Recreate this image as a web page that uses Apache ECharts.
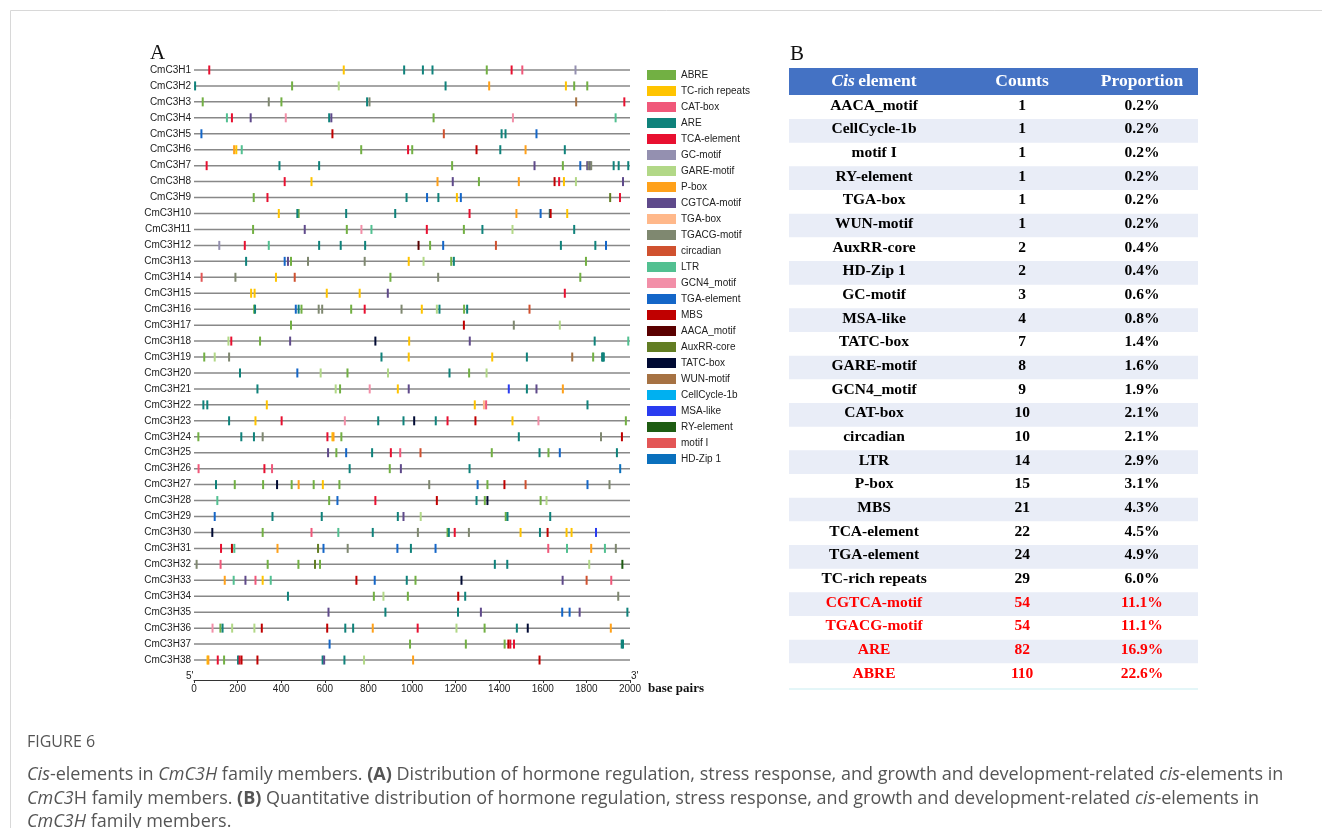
<!DOCTYPE html>
<html><head><meta charset="utf-8">
<script src="https://cdn.jsdelivr.net/npm/echarts@6/dist/echarts.min.js"></script>
<style>html,body{margin:0;padding:0;background:#fff}#c{width:1322px;height:828px}</style>
</head><body><div id="c"></div>
<script>
// ---------- Panel A data ----------
const genes = Array.from({length:38},(_,i)=>'CmC3H'+(i+1));
const xTicks = [0,200,400,600,800,1000,1200,1400,1600,1800,2000];
const elementNames = ['ABRE','TC-rich repeats','CAT-box','ARE','TCA-element','GC-motif','GARE-motif','P-box','CGTCA-motif','TGA-box','TGACG-motif','circadian','LTR','GCN4_motif','TGA-element','MBS','AACA_motif','AuxRR-core','TATC-box','WUN-motif','CellCycle-1b','MSA-like','RY-element','motif I','HD-Zip 1'];
const elementColors = ['#72b043','#ffc400','#f0587a','#0f827b','#e81030','#9490b0','#b2d887','#ffa11a','#5f4a8b','#ffb88a','#7f8870','#d0512f','#52c091','#f28fa8','#1466c8','#c00000','#5a0000','#627d23','#000a33','#a67243','#00b0f0','#2a3cf0','#1e5c12','#e35656','#0a70bd'];
const elementCodes = ['AB','TC','CAT','ARE','TCA','GC','GARE','PB','CG','TGAb','TG','CIR','LTR','GCN','TGAe','MBS','AACA','AUX','TATC','WUN','CC','MSA','RY','MI','HD'];

// [position (bp), element code]
const CmC3H1 = [[70,'TCA'],[687,'TC'],[964,'ARE'],[1050,'ARE'],[1094,'ARE'],[1343,'AB'],[1457,'TCA'],[1506,'CAT'],[1750,'GC']];
const CmC3H2 = [[5,'ARE'],[450,'AB'],[664,'GARE'],[1154,'ARE'],[1354,'PB'],[1706,'TC'],[1744,'AB'],[1804,'AB']];
const CmC3H3 = [[40,'AB'],[343,'TG'],[401,'AB'],[794,'ARE'],[805,'TG'],[1753,'WUN'],[1974,'TCA']];
const CmC3H4 = [[151,'LTR'],[174,'TCA'],[260,'CG'],[421,'GCN'],[620,'ARE'],[630,'CG'],[1099,'AB'],[1463,'GCN'],[1934,'LTR']];
const CmC3H5 = [[34,'TGAe'],[635,'MBS'],[1146,'CIR'],[1411,'ARE'],[1429,'ARE'],[1571,'TGAe']];
const CmC3H6 = [[184,'PB'],[194,'TC'],[219,'LTR'],[767,'AB'],[982,'TCA'],[1001,'AB'],[1296,'MBS'],[1405,'ARE'],[1521,'PB'],[1701,'ARE']];
const CmC3H7 = [[58,'TCA'],[392,'ARE'],[574,'ARE'],[1184,'AB'],[1562,'CG'],[1692,'AB'],[1772,'TGAe'],[1804,'CG'],[1810,'TG'],[1816,'CG'],[1822,'TG'],[1925,'ARE'],[1948,'ARE'],[1992,'ARE']];
const CmC3H8 = [[416,'TCA'],[539,'TC'],[1117,'PB'],[1187,'CG'],[1307,'AB'],[1490,'PB'],[1654,'MBS'],[1675,'TCA'],[1697,'TC'],[1752,'GARE'],[1968,'CG']];
const CmC3H9 = [[274,'AB'],[337,'TCA'],[975,'ARE'],[1069,'TGAe'],[1121,'ARE'],[1206,'TC'],[1224,'TGAe'],[1909,'AUX'],[1954,'TCA']];
const CmC3H10 = [[389,'TC'],[474,'ARE'],[480,'AB'],[698,'ARE'],[923,'ARE'],[1264,'TCA'],[1479,'PB'],[1590,'TGAe'],[1632,'ARE'],[1636,'MBS'],[1712,'TC']];
const CmC3H11 = [[271,'AB'],[508,'CG'],[701,'AB'],[768,'GCN'],[814,'LTR'],[1068,'TCA'],[1238,'AB'],[1323,'ARE'],[1461,'GARE'],[1744,'ARE']];
const CmC3H12 = [[116,'GC'],[233,'TCA'],[343,'LTR'],[574,'ARE'],[673,'ARE'],[785,'ARE'],[1030,'AACA'],[1083,'AB'],[1143,'TGAe'],[1385,'CIR'],[1683,'ARE'],[1841,'ARE'],[1890,'TGAe']];
const CmC3H13 = [[239,'ARE'],[416,'TGAe'],[431,'CG'],[445,'AB'],[523,'TG'],[783,'TG'],[985,'TC'],[1053,'GARE'],[1180,'AB'],[1192,'ARE'],[1798,'AB']];
const CmC3H14 = [[35,'MI'],[190,'TG'],[376,'TC'],[462,'CIR'],[901,'AB'],[1120,'TG'],[1772,'AB']];
const CmC3H15 = [[262,'TC'],[278,'TC'],[609,'TC'],[760,'TC'],[889,'CG'],[1701,'TCA']];
const CmC3H16 = [[276,'AB'],[280,'ARE'],[467,'TGAe'],[480,'ARE'],[493,'AB'],[572,'TG'],[588,'TG'],[721,'AB'],[783,'TCA'],[952,'TG'],[1045,'TC'],[1114,'GARE'],[1126,'ARE'],[1239,'AB'],[1253,'ARE'],[1539,'CIR']];
const CmC3H17 = [[445,'AB'],[1238,'MBS'],[1467,'TG'],[1678,'GARE']];
const CmC3H18 = [[158,'GARE'],[171,'TCA'],[303,'AB'],[441,'CG'],[832,'TATC'],[987,'TC'],[1265,'CG'],[1838,'ARE'],[1992,'LTR']];
const CmC3H19 = [[47,'AB'],[95,'GARE'],[161,'TG'],[860,'ARE'],[985,'TC'],[1368,'TC'],[1527,'ARE'],[1735,'WUN'],[1831,'AB'],[1872,'ARE'],[1876,'ARE'],[1880,'ARE']];
const CmC3H20 = [[211,'ARE'],[474,'TGAe'],[581,'GARE'],[704,'AB'],[890,'GARE'],[1172,'ARE'],[1262,'AB'],[1342,'GARE']];
const CmC3H21 = [[291,'ARE'],[650,'GARE'],[670,'AB'],[806,'GCN'],[935,'TC'],[985,'CG'],[1444,'MSA'],[1527,'ARE'],[1571,'CG'],[1692,'PB']];
const CmC3H22 = [[43,'ARE'],[61,'ARE'],[334,'TC'],[1288,'TC'],[1330,'TGAb'],[1340,'CAT'],[1805,'ARE']];
const CmC3H23 = [[161,'ARE'],[282,'TC'],[402,'TCA'],[692,'GCN'],[845,'ARE'],[961,'ARE'],[1010,'TATC'],[1109,'ARE'],[1163,'TCA'],[1291,'MBS'],[1461,'TC'],[1580,'GCN'],[1981,'AB']];
const CmC3H24 = [[20,'AB'],[217,'ARE'],[275,'ARE'],[315,'TG'],[612,'TCA'],[635,'TC'],[640,'PB'],[676,'AB'],[1490,'ARE'],[1867,'TG'],[1963,'MBS']];
const CmC3H25 = [[615,'CG'],[653,'AB'],[698,'TGAe'],[817,'ARE'],[903,'TCA'],[946,'CAT'],[1039,'CIR'],[1366,'AB'],[1585,'ARE'],[1626,'AB'],[1678,'TGAe'],[1940,'ARE']];
const CmC3H26 = [[21,'CAT'],[323,'TCA'],[358,'CAT'],[714,'ARE'],[898,'AB'],[949,'CG'],[1264,'ARE'],[1955,'HD']];
const CmC3H27 = [[101,'ARE'],[187,'AB'],[317,'AB'],[381,'TATC'],[448,'AB'],[480,'PB'],[549,'AB'],[591,'TC'],[667,'AB'],[1079,'TG'],[1301,'TGAe'],[1346,'AB'],[1424,'MBS'],[1521,'CIR'],[1805,'TGAe'],[1906,'TG']];
const CmC3H28 = [[107,'LTR'],[620,'AB'],[658,'TGAe'],[832,'TCA'],[1114,'MBS'],[1296,'ARE'],[1334,'AB'],[1346,'TATC'],[1590,'AB'],[1617,'GARE']];
const CmC3H29 = [[95,'TGAe'],[360,'ARE'],[586,'ARE'],[935,'ARE'],[961,'CG'],[1040,'GARE'],[1430,'AB'],[1438,'ARE'],[1634,'ARE']];
const CmC3H30 = [[84,'TATC'],[315,'AB'],[539,'CAT'],[662,'LTR'],[820,'ARE'],[1027,'TG'],[1163,'AB'],[1169,'ARE'],[1196,'TCA'],[1261,'TG'],[1498,'TC'],[1587,'ARE'],[1622,'MBS'],[1709,'TC'],[1732,'TC'],[1844,'MSA']];
const CmC3H31 = [[124,'TCA'],[174,'MBS'],[185,'LTR'],[383,'PB'],[569,'AUX'],[594,'TGAe'],[705,'TG'],[933,'TGAe'],[995,'ARE'],[1108,'TGAe'],[1625,'CAT'],[1711,'LTR'],[1822,'PB'],[1885,'LTR'],[1935,'TG']];
const CmC3H32 = [[12,'TG'],[122,'CAT'],[338,'AB'],[479,'AB'],[555,'AUX'],[578,'AB'],[1380,'ARE'],[1437,'ARE'],[1813,'GARE'],[1965,'RY']];
const CmC3H33 = [[141,'PB'],[182,'LTR'],[236,'CG'],[282,'CAT'],[315,'TC'],[352,'LTR'],[745,'MBS'],[829,'TGAe'],[976,'ARE'],[1016,'AB'],[1227,'TATC'],[1691,'CG'],[1801,'CIR'],[1914,'CAT']];
const CmC3H34 = [[431,'ARE'],[825,'AB'],[869,'GARE'],[981,'AB'],[1212,'MBS'],[1244,'ARE'],[1946,'TG']];
const CmC3H35 = [[617,'CG'],[878,'ARE'],[1211,'ARE'],[1316,'CG'],[1689,'TGAe'],[1723,'TGAe'],[1769,'CG'],[1988,'ARE']];
const CmC3H36 = [[85,'GCN'],[121,'AB'],[131,'ARE'],[175,'GARE'],[277,'GARE'],[311,'MBS'],[611,'MBS'],[694,'ARE'],[730,'ARE'],[820,'PB'],[1026,'TCA'],[1204,'GARE'],[1333,'AB'],[1481,'ARE'],[1531,'TATC'],[1912,'PB']];
const CmC3H37 = [[622,'TGAe'],[991,'AB'],[1247,'AB'],[1425,'AB'],[1442,'MBS'],[1451,'TCA'],[1468,'TCA'],[1962,'ARE'],[1968,'ARE']];
const CmC3H38 = [[62,'TC'],[66,'PB'],[109,'TCA'],[138,'AB'],[202,'ARE'],[209,'TCA'],[218,'MBS'],[291,'MBS'],[590,'ARE'],[597,'CG'],[690,'ARE'],[780,'GARE'],[1005,'PB'],[1585,'MBS']];
const sites = [CmC3H1,CmC3H2,CmC3H3,CmC3H4,CmC3H5,CmC3H6,CmC3H7,CmC3H8,CmC3H9,CmC3H10,CmC3H11,CmC3H12,CmC3H13,CmC3H14,CmC3H15,CmC3H16,CmC3H17,CmC3H18,CmC3H19,CmC3H20,CmC3H21,CmC3H22,CmC3H23,CmC3H24,CmC3H25,CmC3H26,CmC3H27,CmC3H28,CmC3H29,CmC3H30,CmC3H31,CmC3H32,CmC3H33,CmC3H34,CmC3H35,CmC3H36,CmC3H37,CmC3H38];

// ---------- Panel B data ----------
const tableElements = ['AACA_motif','CellCycle-1b','motif I','RY-element','TGA-box','WUN-motif','AuxRR-core','HD-Zip 1','GC-motif','MSA-like','TATC-box','GARE-motif','GCN4_motif','CAT-box','circadian','LTR','P-box','MBS','TCA-element','TGA-element','TC-rich repeats','CGTCA-motif','TGACG-motif','ARE','ABRE'];
const tableCounts = [1,1,1,1,1,1,2,2,3,4,7,8,9,10,10,14,15,21,22,24,29,54,54,82,110];
const tableProportions = ['0.2%','0.2%','0.2%','0.2%','0.2%','0.2%','0.4%','0.4%','0.6%','0.8%','1.4%','1.6%','1.9%','2.1%','2.1%','2.9%','3.1%','4.3%','4.5%','4.9%','6.0%','11.1%','11.1%','16.9%','22.6%'];

// ---------- build ----------
const byCode = {};
elementCodes.forEach(c => byCode[c] = []);
sites.forEach((arr, g) => arr.forEach(([pos, code]) => byCode[code].push([pos, g])));

const SANS = '"Liberation Sans", Arial, sans-serif';
const SERIF = '"Liberation Serif", "Times New Roman", serif';
const CAP = '"Open Sans", "Noto Sans", sans-serif';

const markSeries = elementNames.map((name, k) => ({
  name, type: 'scatter', xAxisIndex: 0, yAxisIndex: 0,
  symbol: 'rect', symbolSize: [2, 9], silent: true,
  itemStyle: { color: elementColors[k], opacity: 1 },
  data: byCode[elementCodes[k]], z: 3
}));

const capRich = {
  n: { fontFamily: CAP, fontSize: 18, fill: '#555' },
  i: { fontFamily: CAP, fontSize: 18, fill: '#555', fontStyle: 'italic' },
  b: { fontFamily: CAP, fontSize: 18, fill: '#555', fontWeight: 'bold' }
};

const chart = echarts.init(document.getElementById('c'), null, { renderer: 'canvas' });
chart.setOption({
  animation: false,
  backgroundColor: '#fff',
  grid: [
    { left: 194, width: 436, top: 62, height: 606 },
    { left: 789, width: 409, top: 95.3, height: 591.7 }
  ],
  xAxis: [
    { type: 'value', gridIndex: 0, min: 0, max: 2000, interval: 200, offset: 12,
      axisLine: { show: true, lineStyle: { color: '#333', width: 1 } },
      axisTick: { show: true, length: 3, lineStyle: { color: '#333' } },
      axisLabel: { fontSize: 10, color: '#222', fontFamily: SANS, margin: 4,
        formatter: v => xTicks.includes(v) ? String(v) : '' },
      splitLine: { show: false } },
    { type: 'value', gridIndex: 1, min: 0, max: 1, show: false }
  ],
  yAxis: [
    { type: 'category', gridIndex: 0, data: genes, inverse: true,
      axisLine: { show: false }, axisTick: { show: false },
      axisLabel: { fontSize: 10, color: '#222', fontFamily: SANS, margin: 3 } },
    { type: 'category', gridIndex: 1, data: tableElements, inverse: true, show: false }
  ],
  legend: {
    orient: 'vertical', left: 642, top: 65, itemWidth: 29, itemHeight: 10, itemGap: 6,
    icon: 'rect', selectedMode: false, data: elementNames,
    itemStyle: { opacity: 1 },
    textStyle: { fontSize: 10, fontFamily: SANS, color: '#222' }
  },
  series: [
    { type: 'custom', xAxisIndex: 0, yAxisIndex: 0, silent: true, z: 1,
      data: genes.map((g, i) => [0, i, 2000]),
      renderItem: (params, api) => {
        const s = api.coord([api.value(0), api.value(1)]);
        const e = api.coord([api.value(2), api.value(1)]);
        return { type: 'line', shape: { x1: s[0], y1: s[1], x2: e[0], y2: e[1] },
          style: { stroke: '#888888', lineWidth: 1.5 } };
      } },
    ...markSeries,
    { type: 'custom', xAxisIndex: 1, yAxisIndex: 1, silent: true,
      data: tableElements.map((e, i) => [0.5, i]),
      renderItem: (params, api) => {
        const idx = params.dataIndex;
        const a = api.coord([0, idx]), b = api.coord([1, idx]);
        const h = api.size([0, 1])[1];
        const color = tableCounts[idx] >= 50 ? '#ff0000' : '#000';
        const children = [];
        if (idx % 2 === 1) children.push({ type: 'rect',
          shape: { x: a[0], y: a[1] - h / 2, width: b[0] - a[0], height: h },
          style: { fill: '#e9edf7' } });
        [[0.208, tableElements[idx]], [0.57, tableCounts[idx]], [0.863, tableProportions[idx]]].forEach(([fx, t]) => {
          const c = api.coord([fx, idx]);
          children.push({ type: 'text', x: c[0], y: c[1] - 1.5,
            style: { text: String(t), fill: color, fontFamily: SERIF, fontWeight: 'bold', fontSize: 15.5,
              align: 'center', verticalAlign: 'middle' } });
        });
        return { type: 'group', children };
      } }
  ],
  graphic: [
    { type: 'rect', shape: { x: 10.5, y: 10.5, width: 1400, height: 900 },
      style: { fill: 'none', stroke: '#d8d8d8', lineWidth: 1 }, silent: true },
    { type: 'text', x: 150, y: 53, style: { text: 'A', fontFamily: SERIF, fontSize: 21, fill: '#111', verticalAlign: 'middle' } },
    { type: 'text', x: 790, y: 54, style: { text: 'B', fontFamily: SERIF, fontSize: 21, fill: '#111', verticalAlign: 'middle' } },
    { type: 'text', x: 186, y: 676, style: { text: "5'", fontFamily: SANS, fontSize: 10, fill: '#222', verticalAlign: 'middle' } },
    { type: 'text', x: 631, y: 676, style: { text: "3'", fontFamily: SANS, fontSize: 10, fill: '#222', verticalAlign: 'middle' } },
    { type: 'text', x: 648, y: 689, style: { text: 'base pairs', fontFamily: SERIF, fontWeight: 'bold', fontSize: 13, fill: '#111', verticalAlign: 'middle' } },
    { type: 'rect', shape: { x: 789, y: 68, width: 409, height: 27 }, style: { fill: '#4472c4' } },
    { type: 'text', x: 874, y: 81, style: { text: '{i|Cis} {b|element}', align: 'center', verticalAlign: 'middle',
        rich: { i: { fontFamily: SERIF, fontSize: 17.5, fontWeight: 'bold', fontStyle: 'italic', fill: '#fff' },
                b: { fontFamily: SERIF, fontSize: 17.5, fontWeight: 'bold', fill: '#fff' } } } },
    { type: 'text', x: 1022, y: 81, style: { text: 'Counts', align: 'center', verticalAlign: 'middle', fontFamily: SERIF, fontSize: 17.5, fontWeight: 'bold', fill: '#fff' } },
    { type: 'text', x: 1142, y: 81, style: { text: 'Proportion', align: 'center', verticalAlign: 'middle', fontFamily: SERIF, fontSize: 17.5, fontWeight: 'bold', fill: '#fff' } },
    { type: 'rect', shape: { x: 789, y: 688, width: 409, height: 2 }, style: { fill: '#e4f6f8' } },
    { type: 'text', x: 27, y: 742, style: { text: 'FIGURE 6', fontFamily: CAP, fontSize: 16, fill: '#555', verticalAlign: 'middle' } },
    { type: 'text', x: 27, y: 775, style: { verticalAlign: 'middle', rich: capRich,
        text: '{i|Cis}{n|-elements in }{i|CmC3H}{n| family members. }{b|(A)}{n| Distribution of hormone regulation, stress response, and growth and development-related }{i|cis}{n|-elements in}' } },
    { type: 'text', x: 27, y: 798.5, style: { verticalAlign: 'middle', rich: capRich,
        text: '{i|CmC3}{n|H family members. }{b|(B)}{n| Quantitative distribution of hormone regulation, stress response, and growth and development-related }{i|cis}{n|-elements in}' } },
    { type: 'text', x: 27, y: 821.5, style: { verticalAlign: 'middle', rich: capRich,
        text: '{i|CmC3H}{n| family members.}' } }
  ]
});
</script></body></html>
